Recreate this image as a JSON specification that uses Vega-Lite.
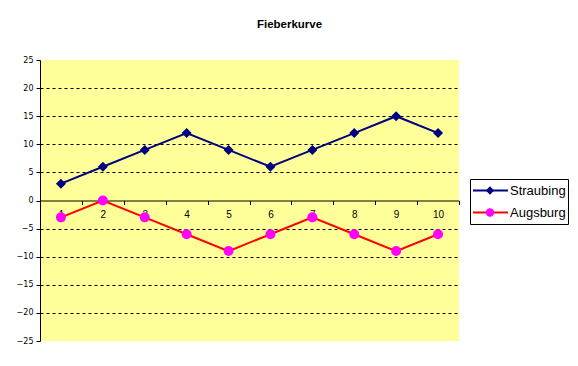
{
  "$schema": "https://vega.github.io/schema/vega-lite/v6.json",
  "width": 419,
  "height": 281,
  "autosize": {"type": "none"},
  "padding": {"left": 40, "top": 60, "right": 119, "bottom": 25},
  "background": "white",
  "title": {
    "text": "Fieberkurve",
    "anchor": "middle",
    "frame": "group",
    "dx": 40,
    "offset": 26,
    "font": "Liberation Sans",
    "fontSize": 11.5,
    "fontWeight": "bold",
    "color": "black"
  },
  "config": {
    "view": {"fill": "#FFFF99", "stroke": null}
  },
  "data": {
    "values": [
      {"tag": 1, "ort": "Straubing", "wert": 3},
      {"tag": 2, "ort": "Straubing", "wert": 6},
      {"tag": 3, "ort": "Straubing", "wert": 9},
      {"tag": 4, "ort": "Straubing", "wert": 12},
      {"tag": 5, "ort": "Straubing", "wert": 9},
      {"tag": 6, "ort": "Straubing", "wert": 6},
      {"tag": 7, "ort": "Straubing", "wert": 9},
      {"tag": 8, "ort": "Straubing", "wert": 12},
      {"tag": 9, "ort": "Straubing", "wert": 15},
      {"tag": 10, "ort": "Straubing", "wert": 12},
      {"tag": 1, "ort": "Augsburg", "wert": -3},
      {"tag": 2, "ort": "Augsburg", "wert": 0},
      {"tag": 3, "ort": "Augsburg", "wert": -3},
      {"tag": 4, "ort": "Augsburg", "wert": -6},
      {"tag": 5, "ort": "Augsburg", "wert": -9},
      {"tag": 6, "ort": "Augsburg", "wert": -6},
      {"tag": 7, "ort": "Augsburg", "wert": -3},
      {"tag": 8, "ort": "Augsburg", "wert": -6},
      {"tag": 9, "ort": "Augsburg", "wert": -9},
      {"tag": 10, "ort": "Augsburg", "wert": -6}
    ]
  },
  "encoding": {
    "x": {
      "field": "tag",
      "type": "ordinal",
      "scale": {"type": "band", "paddingInner": 0, "paddingOuter": 0},
      "axis": {
        "title": null,
        "orient": "bottom",
        "offset": -140.5,
        "labelAngle": 0,
        "tickBand": "extent",
        "tickSize": 4,
        "tickColor": "black",
        "domainColor": "black",
        "domainWidth": 1,
        "labelFont": "Liberation Sans",
        "labelFontSize": 10,
        "labelColor": "black",
        "labelPadding": 5,
        "grid": false
      }
    },
    "y": {
      "field": "wert",
      "type": "quantitative",
      "scale": {"domain": [-25, 25], "nice": false, "zero": false},
      "axis": {
        "title": null,
        "values": [-25, -20, -15, -10, -5, 0, 5, 10, 15, 20, 25],
        "tickSize": 4,
        "tickColor": "black",
        "domainColor": "black",
        "labelFont": "DejaVu Sans",
        "labelFontSize": 8,
        "labelColor": "black",
        "labelPadding": 3,
        "grid": true,
        "gridColor": "black",
        "gridDash": [3, 3],
        "gridOpacity": {"condition": {"test": "datum.value == 0 || abs(datum.value) >= 25", "value": 0}, "value": 1}
      }
    }
  },
  "layer": [
    {
      "mark": {"type": "line", "strokeWidth": 2},
      "encoding": {
        "stroke": {
          "field": "ort",
          "type": "nominal",
          "sort": ["Straubing", "Augsburg"],
          "scale": {"range": ["#000080", "#FF0000"]},
          "legend": {
            "orient": "none",
            "legendX": 430,
            "legendY": 119,
            "title": null,
            "symbolType": "stroke",
            "symbolSize": 1225,
            "symbolStrokeWidth": 2,
            "strokeColor": "black",
            "padding": 2,
            "clipHeight": 19,
            "rowPadding": 3,
            "labelFont": "Liberation Sans",
            "labelFontSize": 13,
            "labelColor": "black",
            "labelOffset": 1
          }
        }
      }
    },
    {
      "mark": {"type": "point", "filled": true, "size": 100, "opacity": 1},
      "encoding": {
        "fill": {
          "field": "ort",
          "type": "nominal",
          "scale": {"domain": ["Straubing", "Augsburg"], "range": ["#000080", "#FF00FF"]},
          "legend": {
            "orient": "none",
            "legendX": 443,
            "legendY": 119,
            "title": null,
            "symbolSize": 70,
            "symbolStrokeWidth": 0,
            "padding": 2,
            "clipHeight": 19,
            "rowPadding": 3,
            "labelExpr": "''"
          }
        },
        "shape": {
          "field": "ort",
          "type": "nominal",
          "scale": {"domain": ["Straubing", "Augsburg"], "range": ["diamond", "circle"]},
          "legend": {
            "orient": "none",
            "legendX": 443,
            "legendY": 119,
            "title": null,
            "symbolSize": 70,
            "symbolStrokeWidth": 0,
            "padding": 2,
            "clipHeight": 19,
            "rowPadding": 3,
            "labelExpr": "''"
          }
        }
      }
    }
  ]
}
